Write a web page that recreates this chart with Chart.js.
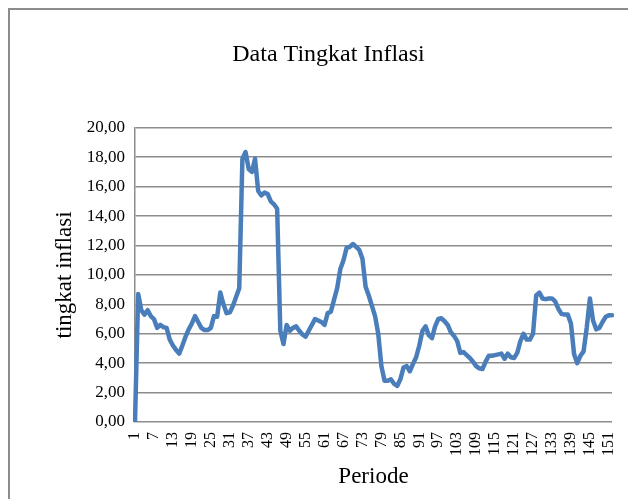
<!DOCTYPE html>
<html>
<head>
<meta charset="utf-8">
<script src="https://cdn.jsdelivr.net/npm/chart.js@4.4.1/dist/chart.umd.min.js"></script>
<style>
  html, body { margin: 0; padding: 0; background: #fff; overflow: hidden; }
  #wrap { position: relative; width: 628px; height: 499px; }
  #frame { position: absolute; left: 8px; top: 8px; width: 700px; height: 600px; border: 2px solid #8c8c8c; }
  canvas { position: absolute; left: 0; top: 0; }
</style>
</head>
<body>
<div id="wrap">
  <div id="frame"></div>
  <canvas id="grafik" width="628" height="499"></canvas>
</div>
<script>
// data inflasi per periode
const periode = [];
for (let i = 1; i <= 152; i++) periode.push(String(i));

const inflasi = [
  0.00, 8.70, 7.60, 7.30, 7.60, 7.20, 7.00, 6.40, 6.60, 6.45,
  6.40, 5.60, 5.20, 4.90, 4.65, 5.20, 5.80, 6.30, 6.70, 7.20,
  6.80, 6.40, 6.25, 6.25, 6.40, 7.20, 7.15, 8.80, 8.00, 7.40,
  7.45, 7.90, 8.50, 9.10, 17.90, 18.35, 17.20, 17.00, 17.90, 15.70,
  15.40, 15.60, 15.50, 15.00, 14.80, 14.50, 6.20, 5.30, 6.60, 6.20,
  6.40, 6.50, 6.20, 5.95, 5.80, 6.20, 6.60, 7.00, 6.90, 6.80,
  6.60, 7.40, 7.50, 8.30, 9.10, 10.40, 11.00, 11.85, 11.90, 12.10,
  11.90, 11.70, 11.10, 9.20, 8.60, 7.90, 7.20, 6.00, 3.80, 2.80,
  2.80, 2.90, 2.60, 2.45, 2.90, 3.70, 3.80, 3.45, 3.95, 4.40,
  5.20, 6.20, 6.50, 5.90, 5.70, 6.50, 7.00, 7.05, 6.85, 6.60,
  6.10, 5.85, 5.50, 4.70, 4.75, 4.55, 4.35, 4.10, 3.80, 3.65,
  3.60, 4.10, 4.50, 4.50, 4.55, 4.60, 4.65, 4.30, 4.65, 4.40,
  4.35, 4.70, 5.50, 6.00, 5.60, 5.60, 6.00, 8.60, 8.80, 8.40,
  8.35, 8.40, 8.40, 8.20, 7.70, 7.35, 7.30, 7.30, 6.70, 4.60,
  4.00, 4.50, 4.80, 6.40, 8.40, 6.90, 6.30, 6.40, 6.80, 7.15,
  7.25, 7.25
];

const yMin = 0, yMax = 20, yStep = 2;

const serif = "'Liberation Serif', 'Times New Roman', serif";

new Chart(document.getElementById("grafik"), {
  type: "line",
  data: {
    labels: periode,
    datasets: [{
      label: "tingkat inflasi",
      data: inflasi,
      borderColor: "#4a7ebb",
      borderWidth: 4.5,
      borderJoinStyle: "round",
      borderCapStyle: "round",
      pointRadius: 0,
      tension: 0,
      fill: false
    }]
  },
  options: {
    responsive: false,
    animation: false,
    layout: { padding: { left: 45, right: 16, top: 0, bottom: 0 } },
    plugins: {
      legend: { display: false },
      tooltip: { enabled: false },
      title: {
        display: true,
        text: "Data Tingkat Inflasi",
        color: "#000",
        font: { family: serif, size: 24, weight: "normal" },
        padding: { top: 40, bottom: 59 }
      }
    },
    scales: {
      x: {
        grid: { display: false, drawTicks: false },
        border: { display: false },
        ticks: {
          autoSkip: false,
          minRotation: 90,
          maxRotation: 90,
          padding: 10,
          color: "#000",
          font: { family: serif, size: 16 },
          callback: function (val, idx) {
            return idx % 6 === 0 ? this.getLabelForValue(val) : null;
          }
        },
        title: {
          display: true,
          text: "Periode",
          color: "#000",
          font: { family: serif, size: 23 },
          padding: { top: 2, bottom: 8 }
        },
        afterFit: (s) => { s.height = 77; s.paddingRight = 0; s.paddingLeft = 0; }
      },
      y: {
        min: yMin,
        max: yMax,
        grid: { color: "#8c8c8c", lineWidth: 1.5, drawTicks: false },
        border: { display: true, color: "#8c8c8c", width: 1.5 },
        ticks: {
          stepSize: yStep,
          padding: 10,
          color: "#000",
          font: { family: serif, size: 17 },
          callback: (v) => v.toFixed(2).replace(".", ",")
        },
        title: {
          display: true,
          text: "tingkat inflasi",
          color: "#000",
          font: { family: serif, size: 23 },
          padding: { top: 6, bottom: 0 }
        },
        afterFit: (s) => { s.width = 90; }
      }
    }
  }
});
</script>
</body>
</html>
